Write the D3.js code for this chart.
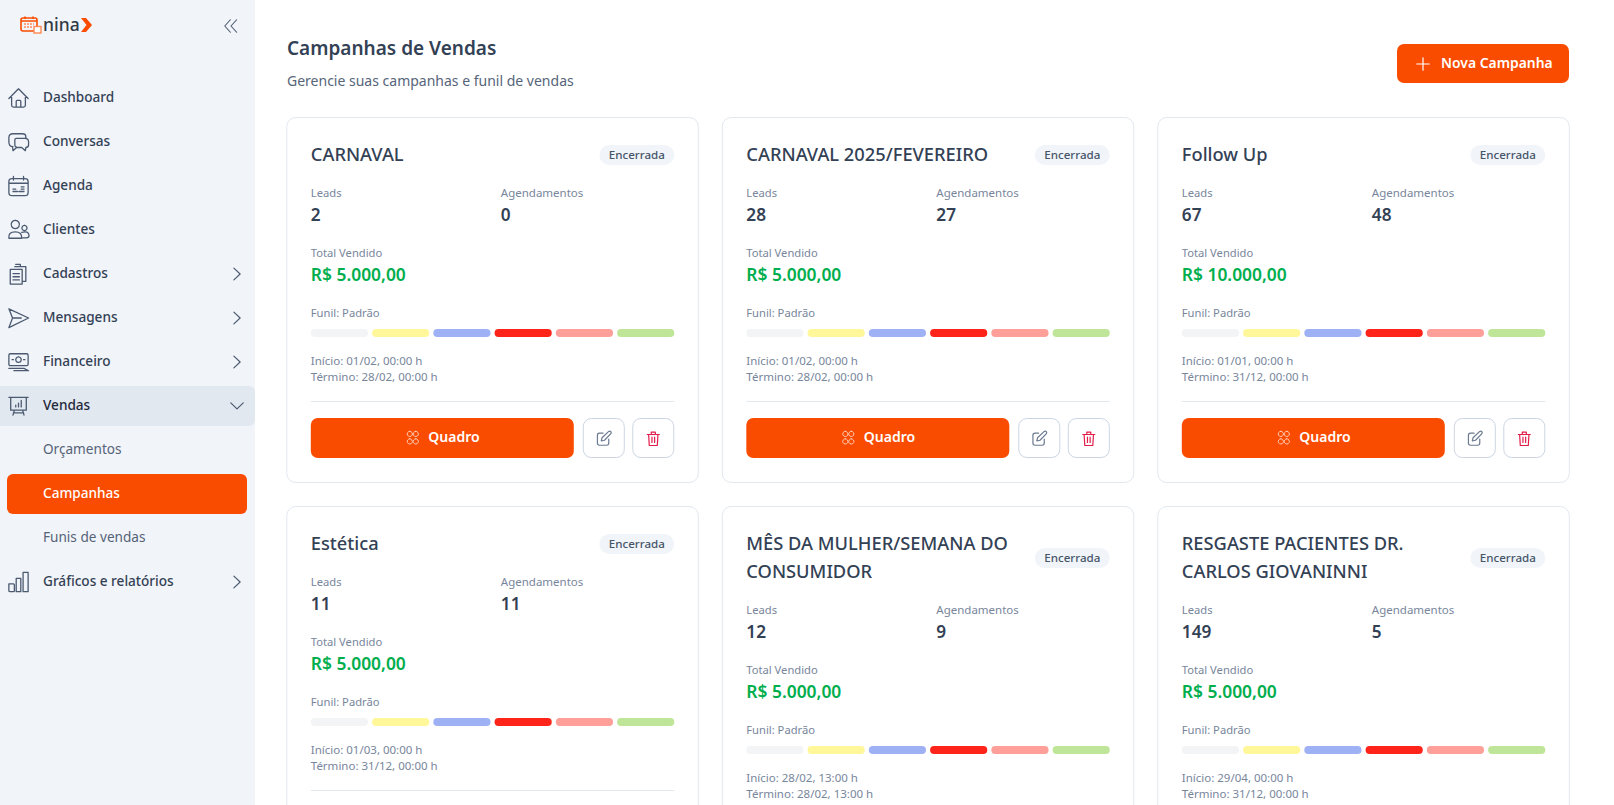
<!DOCTYPE html>
<html>
<head>
<meta charset="utf-8">
<script src="https://cdn.jsdelivr.net/npm/d3@7"></script>
<style>
  html, body { margin: 0; padding: 0; background: #fff; overflow: hidden; }
  svg { display: block; }
  text { font-family: "Noto Sans", sans-serif; }
</style>
</head>
<body>
<svg id="page"></svg>
<script>
const width = 1614;
const height = 805;

// sidebar
const menuItems = ["Dashboard", "Conversas", "Agenda", "Clientes", "Cadastros", "Mensagens", "Financeiro", "Vendas", "Orçamentos", "Campanhas", "Funis de vendas", "Gráficos e relatórios"];
const menuIcons = ["home", "chat", "calendar", "users", "clipboard", "send", "money", "board", null, null, null, "bars"];
const menuArrows = [null, null, null, null, "right", "right", "right", "down", null, null, null, "right"];
const subItems = ["Orçamentos", "Campanhas", "Funis de vendas"];

// cards
const campaignTitles = [["CARNAVAL"], ["CARNAVAL 2025/FEVEREIRO"], ["Follow Up"], ["Estética"], ["MÊS DA MULHER/SEMANA DO", "CONSUMIDOR"], ["RESGASTE PACIENTES DR.", "CARLOS GIOVANINNI"]];
const leads = [2, 28, 67, 11, 12, 149];
const agendamentos = [0, 27, 48, 11, 9, 5];
const totalVendido = ["R$ 5.000,00", "R$ 5.000,00", "R$ 10.000,00", "R$ 5.000,00", "R$ 5.000,00", "R$ 5.000,00"];
const inicio = ["01/02, 00:00 h", "01/02, 00:00 h", "01/01, 00:00 h", "01/03, 00:00 h", "28/02, 13:00 h", "29/04, 00:00 h"];
const termino = ["28/02, 00:00 h", "28/02, 00:00 h", "31/12, 00:00 h", "31/12, 00:00 h", "28/02, 13:00 h", "31/12, 00:00 h"];
const funnelStages = ["s1", "s2", "s3", "s4", "s5", "s6"];
const funnelColors = ["#f3f4f6", "#fff799", "#9fb1f5", "#ff2419", "#ff9f99", "#bfe698"];

const orange = "#fa4c00";
const ink = "#334155";
const muted = "#78869b";

const svg = d3.select("#page").attr("width", width).attr("height", height);

function label(g, x, y, txt, size, fill, weight, anchor) {
  return g.append("text").attr("x", x).attr("y", y)
    .attr("dy", "0.35em")
    .attr("font-size", size)
    .attr("font-weight", weight || 400)
    .attr("fill", fill)
    .attr("text-anchor", anchor || "start")
    .text(txt);
}

// icons are drawn in a 24x24 box
const iconPaths = {
  home: "M1.5 12.5 L12 2 L22.5 12.5 M4.5 9.5 V20 Q4.5 22 6.5 22 H17.5 Q19.5 22 19.5 20 V9.5 M9.5 22 V15.5 Q9.5 14.5 10.5 14.5 H13.5 Q14.5 14.5 14.5 15.5 V22",
  chat: "M6 17 Q1.5 17 1.5 12 V7 Q1.5 3 6 3 H16 Q20 3 20 6 V8 M9.5 8 H19 Q23 8 23 12 V15 Q23 18 20 18 L19.5 21.5 L15.5 18 H12 Q8 18 8 15 V9.5 Q8 8 9.5 8 M5.5 17 L6 21.5 L10 18",
  calendar: "M5 4 H19 Q22.5 4 22.5 7 V19 Q22.5 22.5 19 22.5 H5 Q1.5 22.5 1.5 19 V7 Q1.5 4 5 4 M1.5 9 H22.5 M6.5 1.5 V5.5 M17.5 1.5 V5.5 M6 18 H11 M6 15.5 H9 M12.5 18 H18 M15 15.5 H18 M15 13 H18",
  users: "M8.5 1.5 A4.5 4.5 0 1 0 8.51 1.5 M18.5 7 A2.8 2.8 0 1 0 18.51 7 M1.5 21 Q0.5 14 8.5 14 Q16 14 15.5 21 Z M15.5 14.5 Q23 12.5 23.5 18 Q23.5 20.5 20.5 20.5 H15.5",
  clipboard: "M3 7 H16 V23 H3 Z M9 1.5 H14 V4 H9 M8 4 H20 V20 H16 M6 11.5 H13 M6 15 H13 M6 18.5 H13",
  send: "M1.5 2 L23 12 L1.5 22.5 L5.5 12 Z M5.5 12 H15",
  money: "M3 3 H21 Q22.5 3 22.5 4.5 V14.5 Q22.5 16 21 16 H3 Q1.5 16 1.5 14.5 V4.5 Q1.5 3 3 3 M12 6.5 A3 3 0 1 0 12.01 6.5 M5 9.5 H6.5 M17.5 9.5 H19 M1.5 19 L18 19 L23 21.5 H7",
  board: "M1.5 2.5 H22.5 M3.5 2.5 V16.5 H20.5 V2.5 M7.5 16.5 L6 22 M16.5 16.5 L18 22 M6.5 19.5 H17.5 M9 13 V11 M12 13 V9 M15 13 V6",
  bars: "M1.5 14 H6.5 Q7.5 14 7.5 15 V21.5 Q7.5 22.5 6.5 22.5 H2.5 Q1.5 22.5 1.5 21.5 Z M9.5 8 H14.5 V22.5 H9.5 Z M17 1.5 H22.5 V22.5 H17 Z",
  plus: "M12 2 V22 M2 12 H22",
  grid: "M8 3 A3.5 3.5 0 1 0 8.01 3 M16 3 A3.5 3.5 0 1 0 16.01 3 M8 13 A3.5 3.5 0 1 0 8.01 13 M16 13 A3.5 3.5 0 1 0 16.01 13",
  edit: "M11 4.5 H6 Q3 4.5 3 7.5 V18.5 Q3 21.5 6 21.5 H16 Q19 21.5 19 18.5 V13 M8.5 15.5 L9.5 11 L19 2 Q20.5 1 22 2.5 Q23 4 22 5 L13 14.5 Z",
  trash: "M3 6 H21 M9 6 V2.5 H15 V6 M5 6 L6 22.5 H18 L19 6 M10 10 V18 M14 10 V18",
  right: "M7 2.5 L17 12 L7 21.5",
  down: "M2 7 L12 16.5 L22 7",
  collapse: "M11 2 L2 12 L11 22 M21 2 L12 12 L21 22"
};

function icon(g, name, cx, cy, size, color, sw) {
  const k = size / 24;
  g.append("path")
    .attr("transform", `translate(${cx - size / 2},${cy - size / 2}) scale(${k})`)
    .attr("d", iconPaths[name])
    .attr("fill", "none")
    .attr("stroke", color)
    .attr("stroke-width", sw / k)
    .attr("stroke-linejoin", "round")
    .attr("stroke-linecap", "round");
}

// ---- sidebar
const side = svg.append("g");
side.append("rect").attr("width", 255).attr("height", height).attr("fill", "#f1f4f9");

const menuY = d3.scalePoint().domain(menuItems).range([98, 582]);

side.append("rect").attr("x", -8).attr("y", menuY("Vendas") - 20).attr("width", 263).attr("height", 40).attr("rx", 6).attr("fill", "#e2e8f0");
side.append("rect").attr("x", 7).attr("y", menuY("Campanhas") - 20).attr("width", 240).attr("height", 40).attr("rx", 6).attr("fill", orange);

menuItems.forEach((m, i) => {
  const y = menuY(m);
  const isSub = subItems.includes(m);
  const color = m === "Campanhas" ? "#ffffff" : m === "Vendas" ? "#1e293b" : isSub ? "#556377" : ink;
  label(side, 43, y - 1, m, 13.6, color, m === "Campanhas" || !isSub ? 500 : 400);
  if (menuIcons[i]) icon(side, menuIcons[i], 18.5, y, 22, "#4b5a70", 1.3);
  if (menuArrows[i]) icon(side, menuArrows[i], 237, y, 15, "#4b5a70", 1.2);
});

// logo
const logo = side.append("g");
logo.append("rect").attr("x", 21).attr("y", 18).attr("width", 16).attr("height", 13).attr("rx", 2).attr("fill", "none").attr("stroke", orange).attr("stroke-width", 1.6);
logo.append("path").attr("d", "M21 21 H37 M25 16.5 V19 M33 16.5 V19").attr("stroke", orange).attr("stroke-width", 1.6);
logo.append("path").attr("d", "M24 24 H34 M24 27 H32").attr("stroke", "#ff8a55").attr("stroke-width", 1.4).attr("stroke-dasharray", "2 1");
logo.append("rect").attr("x", 34).attr("y", 26.5).attr("width", 7).attr("height", 6.5).attr("fill", "#fff").attr("stroke", "#ff8a55").attr("stroke-width", 1.4);
label(logo, 43, 24.5, "nina", 17.5, "#333a45", 500);
logo.append("path").attr("d", "M81 18 H86 L92 25 L86 32 H81 L86.5 25 Z").attr("fill", orange);
icon(side, "collapse", 231, 26, 15, "#4b5a70", 1.1);

// ---- header
const head = svg.append("g");
label(head, 287, 48, "Campanhas de Vendas", 19, ink, 600);
label(head, 287, 81, "Gerencie suas campanhas e funil de vendas", 14, "#566579");
head.append("rect").attr("x", 1397).attr("y", 44).attr("width", 172).attr("height", 39).attr("rx", 7).attr("fill", orange);
icon(head, "plus", 1423, 64, 15, "#fff", 1.2);
label(head, 1441, 63.5, "Nova Campanha", 13.9, "#fff", 600);

// ---- cards
const colX = d3.scaleBand().domain([0, 1, 2]).range([286.3, 1569.8]).paddingInner(23 / 435.3);
const rowTop = d3.scaleOrdinal().domain([0, 1]).range([117, 506]);
const cardH = 365;
const pad = 24.5;

const cards = svg.append("g").selectAll("g")
  .data(campaignTitles)
  .join("g")
  .attr("transform", (d, i) => `translate(${colX(i % 3)},${rowTop(Math.floor(i / 3))})`);

cards.each(function (lines, i) {
  const g = d3.select(this);
  const w = colX.bandwidth();
  const shift = (lines.length - 1) * 28;
  const top = rowTop(Math.floor(i / 3));
  g.append("rect").attr("x", 0.5).attr("y", 0.5).attr("width", w - 1).attr("height", cardH + shift)
    .attr("rx", 9).attr("fill", "#fff").attr("stroke", "#e2e8f0");

  lines.forEach((t, j) => label(g, pad, 38 + j * 28, t, 18.3, ink, 500));

  // status badge
  const badgeY = 28 + shift / 2;
  g.append("rect").attr("x", w - pad - 75).attr("y", badgeY).attr("width", 75).attr("height", 20).attr("rx", 10).attr("fill", "#f1f5f9");
  label(g, w - pad - 37.5, badgeY + 10, "Encerrada", 11.6, "#475569", 500, "middle");

  const colB = pad + 190;
  label(g, pad, 76 + shift, "Leads", 11.2, muted);
  label(g, colB, 76 + shift, "Agendamentos", 11.5, muted);
  label(g, pad, 98 + shift, leads[i], 17.2, ink, 600);
  label(g, colB, 98 + shift, agendamentos[i], 17.2, ink, 600);

  label(g, pad, 136 + shift, "Total Vendido", 11.2, muted);
  label(g, pad, 158 + shift, totalVendido[i], 17.4, "#00ae4d", 600);

  label(g, pad, 196 + shift, "Funil: Padrão", 11.2, muted);
  const segX = d3.scaleBand().domain(funnelStages).range([pad, w - pad]).paddingInner(0.066);
  g.append("g").selectAll("rect").data(funnelStages).join("rect")
    .attr("x", d => segX(d)).attr("y", 212 + shift)
    .attr("width", segX.bandwidth()).attr("height", 8).attr("rx", 4)
    .attr("fill", (d, k) => funnelColors[k]);

  label(g, pad, 244 + shift, `Início: ${inicio[i]}`, 11.5, muted);
  label(g, pad, 260 + shift, `Término: ${termino[i]}`, 11.5, muted);

  g.append("line").attr("x1", pad).attr("x2", w - pad).attr("y1", 284.5 + shift).attr("y2", 284.5 + shift).attr("stroke", "#e2e8f0");

  // action buttons, the second row has them below the fold
  const btnY = 301 + shift;
  if (top + btnY > height) return;
  g.append("rect").attr("x", pad).attr("y", btnY).attr("width", 263).attr("height", 40).attr("rx", 7).attr("fill", orange);
  icon(g, "grid", pad + 102, btnY + 20, 18, "#ffd9c8", 0.9);
  label(g, pad + 117.5, btnY + 19, "Quadro", 14, "#fff", 600);
  [["edit", "#6b7a90", w - pad - 91.5], ["trash", "#e11d48", w - pad - 42]].forEach(([name, c, x]) => {
    g.append("rect").attr("x", x + 0.5).attr("y", btnY + 0.5).attr("width", 41).attr("height", 39).attr("rx", 8).attr("fill", "#fff").attr("stroke", "#cbd5e1");
    icon(g, name, x + 21, btnY + 20.5, name === "edit" ? 17 : 16, c, 1.2);
  });
});
</script>
</body>
</html>
